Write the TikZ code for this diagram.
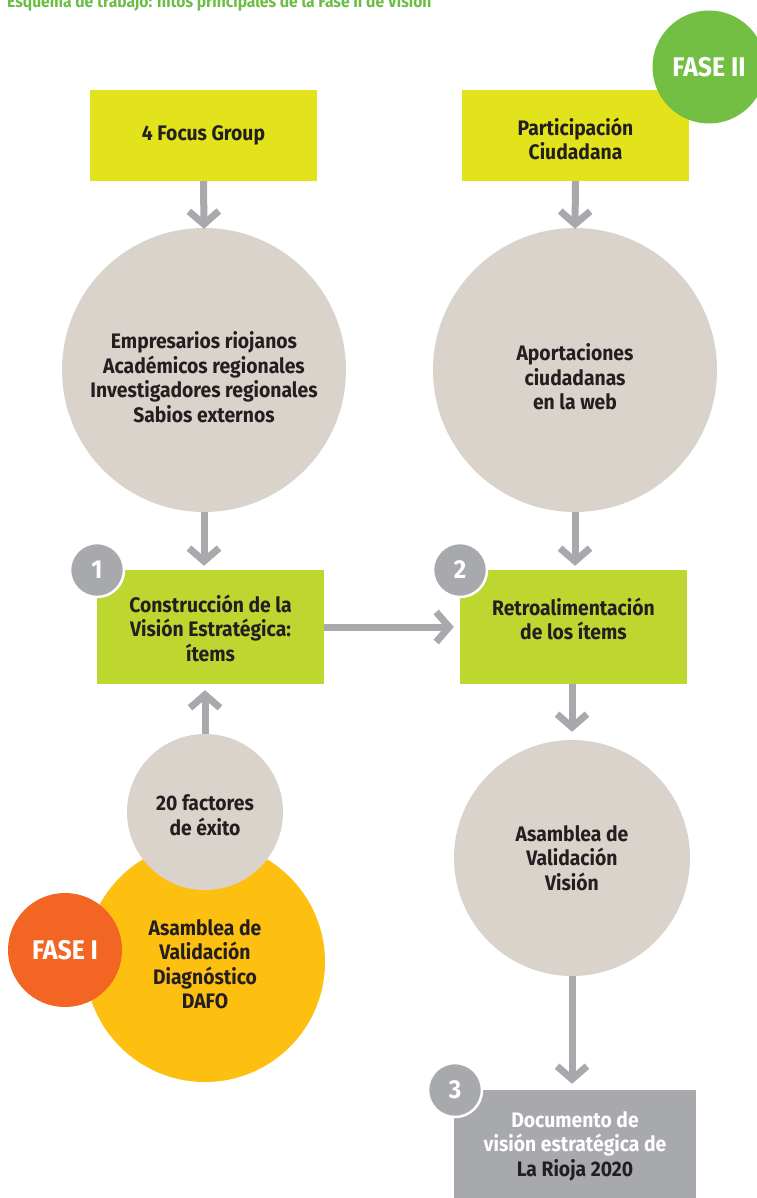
\documentclass[tikz,border=0pt]{standalone}
\usepackage{fontspec}
\setmainfont{Fira Sans}[FakeStretch=0.92]
\usetikzlibrary{arrows.meta}
\definecolor{titlegreen}{HTML}{6CBD45}
\definecolor{fasegreen}{HTML}{72BF44}
\definecolor{boxyellow}{HTML}{E2E31A}
\definecolor{boxlime}{HTML}{BED730}
\definecolor{circgray}{HTML}{D9D3CC}
\definecolor{arrgray}{HTML}{A7A9AC}
\definecolor{sunyellow}{HTML}{FDC010}
\definecolor{faseorange}{HTML}{F26522}
\definecolor{txtdark}{HTML}{231F20}
\tikzset{
  lbl/.style={font=\bfseries\fontsize{21}{24.5}\selectfont, text=txtdark, align=center},
  boxa/.style={rectangle, fill=boxyellow, minimum width=227pt, minimum height=91pt, inner sep=0pt},
  boxb/.style={rectangle, fill=boxlime, minimum width=227pt, minimum height=114pt, inner sep=0pt},
  bigcirc/.style={circle, fill=circgray, inner sep=0pt},
  badge/.style={circle, fill=arrgray, draw=white, line width=2.5pt, minimum size=54pt, inner sep=0pt,
     font=\bfseries\fontsize{26}{28}\selectfont, text=white},
  fase/.style={circle, inner sep=0pt, text=white, font=\bfseries\fontsize{27}{30}\selectfont},
  conn/.style={draw=arrgray, line width=7pt, -{Straight Barb[length=13pt,width=30pt]}},
}
\begin{document}
\begin{tikzpicture}[x=1pt,y=-1pt]
\useasboundingbox (0,0) rectangle (756,1198);
% title (cut at top)
\node[anchor=base west, inner sep=0pt, font=\bfseries\fontsize{17}{20}\selectfont, text=titlegreen]
  (title) at (7,7.5) {Esquema de trabajo: hitos principales de la Fase II de Visión};
% top boxes
\node[boxa] (fg) at (203.5,135.5) {};
\node[lbl] at (fg.center) {4 Focus Group};
\node[boxa] (pc) at (575.5,135.5) {};
\node[lbl] at (575.5,139) {Participación\\Ciudadana};
% FASE II
\node[fase, fill=fasegreen, minimum size=113pt] (f2) at (709,67) {FASE II};
% big circles
\node[bigcirc, minimum size=284pt] (c1) at (204,370) {};
\node[lbl] at (204,377) {Empresarios riojanos\\Académicos regionales\\Investigadores regionales\\Sabios externos};
\node[bigcirc, minimum size=284pt] (c2) at (575,370) {};
\node[lbl] at (575,377) {Aportaciones\\ciudadanas\\en la web};
% mid boxes
\node[boxb] (b1) at (210.5,627) {};
\node[lbl] at (210.5,628) {Construcción de la\\Visión Estratégica:\\ítems};
\node[boxb] (b2) at (573.5,627) {};
\node[lbl] at (573.5,619) {Retroalimentación\\de los ítems};
\node[badge] (n1) at (97,570) {1};
\node[badge] (n2) at (460,570) {2};
% lower left
\node[circle, fill=sunyellow, minimum size=240pt, inner sep=0pt] (dafo) at (205,962) {};
\node[lbl] at (205,964) {Asamblea de\\Validación\\Diagnóstico\\DAFO};
\node[bigcirc, minimum size=156pt] (f20) at (205,812) {};
\node[lbl] at (205,815) {20 factores\\de éxito};
\node[fase, fill=faseorange, minimum size=114pt] (f1) at (65,950) {FASE I};
% lower right
\node[bigcirc, minimum size=236pt] (c3) at (572,858) {};
\node[lbl] at (572,858) {Asamblea de\\Validación\\Visión};
\node[rectangle, fill=arrgray, minimum width=242pt, minimum height=110pt, inner sep=0pt] (b3) at (575,1145) {};
\node[lbl] at (575,1146) {\textcolor{white}{Documento de}\\\textcolor{white}{visión estratégica de}\\La Rioja 2020};
\node[badge] (n3) at (455,1090) {3};
% connectors
\draw[conn] (fg.south) -- ([yshift=-1pt]c1.north);
\draw[conn] (pc.south) -- ([yshift=-1pt]c2.north);
\draw[conn, shorten >=4pt] (c1.south) -- (b1.north -| c1.south);
\draw[conn, shorten >=4pt] (c2.south) -- (b2.north -| c2.south);
\draw[conn, shorten >=6pt] (b1.east) -- (b2.west);
\draw[conn, shorten >=6pt] (f20.north) -- (b1.south -| f20.north);
\draw[conn, shorten >=8pt] (b2.south -| c3.north) -- (c3.north);
\draw[conn, shorten >=6pt] (c3.south) -- (b3.north -| c3.south);
\end{tikzpicture}
\end{document}
